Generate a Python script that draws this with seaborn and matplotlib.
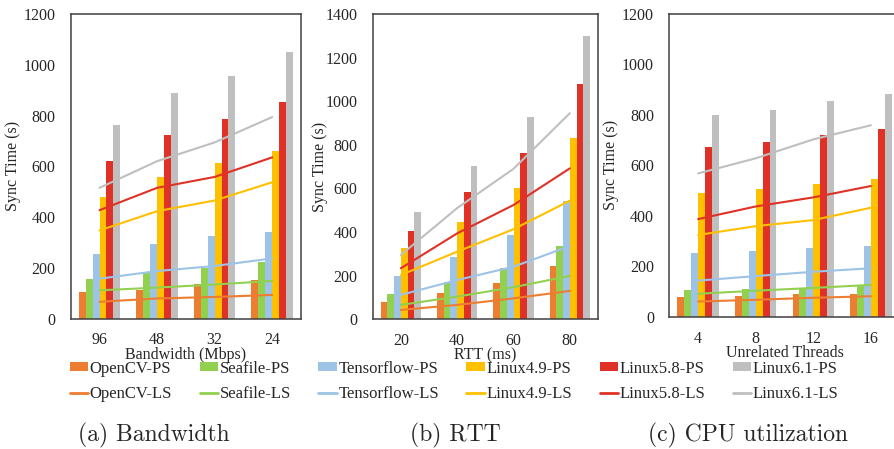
import pandas as pd
import matplotlib
matplotlib.use("Agg")
import matplotlib.pyplot as plt
from matplotlib.patches import Patch
from matplotlib.lines import Line2D
import seaborn as sns

# series names and colours
names = ['OpenCV', 'Seafile', 'Tensorflow', 'Linux4.9', 'Linux5.8', 'Linux6.1']
colors = ['#ED7D31', '#92D050', '#9DC3E6', '#FFC000', '#E03127', '#BFBFBF']

# (a) Bandwidth
bw_cats = ['96', '48', '32', '24']
bw_ps = {
    'OpenCV': [105, 113, 135, 151],
    'Seafile': [157, 178, 199, 223],
    'Tensorflow': [253, 293, 324, 341],
    'Linux4.9': [479, 557, 613, 662],
    'Linux5.8': [621, 723, 786, 855],
    'Linux6.1': [764, 888, 956, 1049],
}
bw_ls = {
    'OpenCV': [66, 79, 85, 93],
    'Seafile': [111, 122, 134, 148],
    'Tensorflow': [157, 187, 207, 237],
    'Linux4.9': [347, 423, 465, 537],
    'Linux5.8': [427, 515, 558, 635],
    'Linux6.1': [515, 620, 694, 794],
}

# (b) RTT
rtt_cats = ['20', '40', '60', '80']
rtt_ps = {
    'OpenCV': [81, 119, 167, 246],
    'Seafile': [118, 171, 235, 336],
    'Tensorflow': [199, 286, 388, 544],
    'Linux4.9': [329, 445, 602, 833],
    'Linux5.8': [403, 582, 764, 1077],
    'Linux6.1': [491, 705, 926, 1301],
}
rtt_ls = {
    'OpenCV': [43, 66, 96, 130],
    'Seafile': [66, 104, 147, 199],
    'Tensorflow': [112, 180, 241, 336],
    'Linux4.9': [203, 310, 413, 544],
    'Linux5.8': [234, 394, 524, 692],
    'Linux6.1': [295, 510, 690, 945],
}

# (c) CPU utilization
cpu_cats = ['4', '8', '12', '16']
cpu_ps = {
    'OpenCV': [79, 83, 89, 91],
    'Seafile': [106, 110, 114, 126],
    'Tensorflow': [254, 260, 271, 280],
    'Linux4.9': [492, 506, 527, 544],
    'Linux5.8': [671, 691, 720, 744],
    'Linux6.1': [798, 819, 856, 884],
}
cpu_ls = {
    'OpenCV': [60, 67, 75, 81],
    'Seafile': [91, 103, 114, 126],
    'Tensorflow': [143, 161, 178, 192],
    'Linux4.9': [324, 359, 383, 432],
    'Linux5.8': [387, 437, 473, 518],
    'Linux6.1': [568, 628, 703, 759],
}

sns.set_style("white")
plt.rcParams['font.family'] = ['Liberation Serif', 'DejaVu Serif']


def to_long(cats, data):
    rows = []
    for name in names:
        for c, v in zip(cats, data[name]):
            rows.append({'cat': c, 'series': name, 'val': v})
    return pd.DataFrame(rows)


def draw_panel(ax, cats, ps, ls, ymax, xlabel, ylabel_pad):
    df_ps = to_long(cats, ps)
    df_ls = to_long(cats, ls)
    sns.barplot(data=df_ps, x='cat', y='val', hue='series', order=cats,
                hue_order=names, palette=colors, width=0.72, gap=0,
                saturation=1, errorbar=None, legend=False, ax=ax,
                linewidth=0, edgecolor='none')
    sns.pointplot(data=df_ls, x='cat', y='val', hue='series', order=cats,
                  hue_order=names, palette=colors, markers='', linestyles='-',
                  errorbar=None, legend=False, ax=ax, linewidth=1.5)
    ax.set_ylim(0, ymax)
    ax.set_yticks(range(0, ymax + 1, 200))
    ax.set_xlim(-0.5, len(cats) - 0.5)
    ax.tick_params(axis='both', length=0, labelsize=11.5)
    ax.tick_params(axis='y', pad=11)
    ax.tick_params(axis='x', pad=10)
    ax.set_xlabel(xlabel, fontsize=11.5, labelpad=-1)
    ax.set_ylabel('Sync Time (s)', fontsize=11.5, labelpad=ylabel_pad)
    for sp in ax.spines.values():
        sp.set_visible(True)
        sp.set_color('#404040')
        sp.set_linewidth(1.1)


fig = plt.figure(figsize=(8.94, 4.49), dpi=100)
ax1 = fig.add_axes([0.0791, 0.2906, 0.2576, 0.6782])
ax2 = fig.add_axes([0.4169, 0.2889, 0.2520, 0.6800])
ax3 = fig.add_axes([0.7487, 0.2947, 0.2576, 0.6740])

draw_panel(ax1, bw_cats, bw_ps, bw_ls, 1200, 'Bandwidth (Mbps)', 2)
draw_panel(ax2, rtt_cats, rtt_ps, rtt_ls, 1400, 'RTT (ms)', -2)
draw_panel(ax3, cpu_cats, cpu_ps, cpu_ls, 1200, 'Unrelated Threads', 2)

# legend: column-major, PS patch above LS line
handles, labels = [], []
for name, col in zip(names, colors):
    handles.append(Patch(facecolor=col, edgecolor='none'))
    labels.append(f'{name}-PS')
    handles.append(Line2D([0], [0], color=col, linewidth=2))
    labels.append(f'{name}-LS')
fig.legend(handles, labels, ncol=6, loc='upper left',
           bbox_to_anchor=(0.078, 0.197), frameon=False, fontsize=12,
           handlelength=1.1, handleheight=0.45, handletextpad=0.1,
           columnspacing=1.65, labelspacing=0.55, borderpad=0, borderaxespad=0)

# sub-figure captions
cap_font = dict(fontsize=17, family='cmr10', ha='center', va='center')
fig.text(153.5 / 894, 1 - 435 / 449, '(a) Bandwidth', **cap_font)
fig.text(455 / 894, 1 - 435 / 449, '(b) RTT', **cap_font)
fig.text(747.5 / 894, 1 - 435 / 449, '(c) CPU utilization', **cap_font)

fig.savefig('out.png', dpi=100)
